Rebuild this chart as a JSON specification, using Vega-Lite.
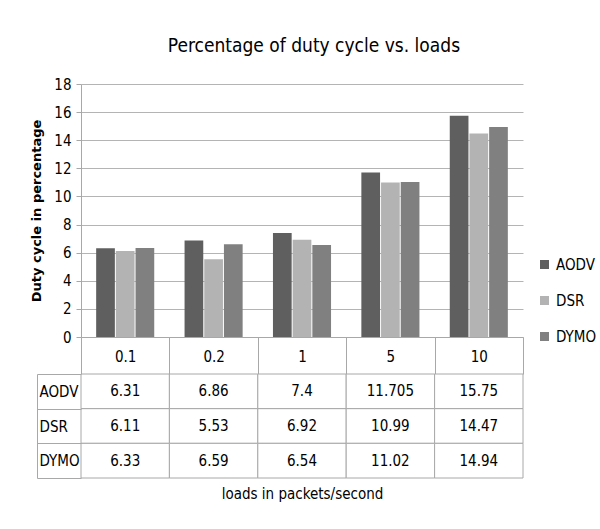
{
  "$schema": "https://vega.github.io/schema/vega-lite/v6.json",
  "background": "white",
  "padding": {"left": 30, "top": 37, "right": 5, "bottom": 5},
  "title": {
    "text": "Percentage of duty cycle  vs.  loads",
    "font": "DejaVu Sans Condensed, Roboto, sans-serif",
    "fontSize": 19,
    "fontWeight": "normal",
    "color": "black",
    "anchor": "middle",
    "offset": 21
  },
  "data": {
    "values": [
      {"load": "0.1", "protocol": "AODV", "value": 6.31},
      {"load": "0.1", "protocol": "DSR", "value": 6.11},
      {"load": "0.1", "protocol": "DYMO", "value": 6.33},
      {"load": "0.2", "protocol": "AODV", "value": 6.86},
      {"load": "0.2", "protocol": "DSR", "value": 5.53},
      {"load": "0.2", "protocol": "DYMO", "value": 6.59},
      {"load": "1", "protocol": "AODV", "value": 7.4},
      {"load": "1", "protocol": "DSR", "value": 6.92},
      {"load": "1", "protocol": "DYMO", "value": 6.54},
      {"load": "5", "protocol": "AODV", "value": 11.705},
      {"load": "5", "protocol": "DSR", "value": 10.99},
      {"load": "5", "protocol": "DYMO", "value": 11.02},
      {"load": "10", "protocol": "AODV", "value": 15.75},
      {"load": "10", "protocol": "DSR", "value": 14.47},
      {"load": "10", "protocol": "DYMO", "value": 14.94}
    ]
  },
  "bounds": "flush",
  "spacing": 37,
  "vconcat": [
    {
      "width": 442,
      "height": 253,
      "mark": {"type": "bar"},
      "encoding": {
        "x": {
          "field": "load",
          "type": "nominal",
          "sort": ["0.1", "0.2", "1", "5", "10"],
          "scale": {"paddingInner": 0, "paddingOuter": 0},
          "axis": {
            "title": null,
            "labelAngle": 0,
            "domainColor": "#a8a8a8",
            "tickColor": "#a8a8a8",
            "tickBand": "extent",
            "tickSize": 37,
            "labelPadding": -18,
            "labelBaseline": "middle",
            "labelFont": "DejaVu Sans Condensed, Roboto, sans-serif",
            "labelFontSize": 15,
            "labelColor": "black"
          }
        },
        "xOffset": {
          "field": "protocol",
          "type": "nominal",
          "sort": ["AODV", "DSR", "DYMO"],
          "scale": {"paddingInner": 0.05, "paddingOuter": 0.77}
        },
        "y": {
          "field": "value",
          "type": "quantitative",
          "scale": {"domain": [0, 18], "nice": false},
          "axis": {
            "values": [0, 2, 4, 6, 8, 10, 12, 14, 16, 18],
            "title": "Duty cycle in percentage",
            "titleFont": "DejaVu Sans",
            "titleFontSize": 13,
            "titleFontWeight": "bold",
            "titleColor": "black",
            "titlePadding": 10,
            "labelFont": "DejaVu Sans Condensed, Roboto, sans-serif",
            "labelFontSize": 15,
            "labelColor": "black",
            "labelPadding": 5,
            "tickSize": 5,
            "tickColor": "#a8a8a8",
            "domainColor": "#a8a8a8",
            "gridColor": "#b4b4b4",
            "grid": true
          }
        },
        "color": {
          "field": "protocol",
          "type": "nominal",
          "sort": ["AODV", "DSR", "DYMO"],
          "scale": {"domain": ["AODV", "DSR", "DYMO"], "range": ["#5f5f5f", "#b3b3b3", "#808080"]},
          "legend": {
            "title": null,
            "orient": "none",
            "legendX": 456,
            "legendY": 173,
            "symbolType": "square",
            "symbolSize": 81,
            "symbolStrokeWidth": 0,
            "labelFont": "DejaVu Sans Condensed, Roboto, sans-serif",
            "labelFontSize": 15,
            "labelColor": "black",
            "labelOffset": 4,
            "rowPadding": 20
          }
        }
      }
    },
    {
      "width": 442,
      "height": 104,
      "encoding": {
        "x": {
          "field": "load",
          "type": "nominal",
          "sort": ["0.1", "0.2", "1", "5", "10"],
          "scale": {"paddingInner": 0, "paddingOuter": 0},
          "axis": {
            "title": "loads in  packets/second",
            "titleFont": "DejaVu Sans Condensed, Roboto, sans-serif",
            "titleFontSize": 15,
            "titleFontWeight": "normal",
            "titleColor": "black",
            "titlePadding": 8,
            "labels": false,
            "ticks": false,
            "domain": false
          }
        },
        "y": {
          "field": "protocol",
          "type": "nominal",
          "sort": ["AODV", "DSR", "DYMO"],
          "scale": {"paddingInner": 0, "paddingOuter": 0},
          "axis": {
            "title": null,
            "offset": 44,
            "domainColor": "#a8a8a8",
            "tickColor": "#a8a8a8",
            "tickBand": "extent",
            "tickSize": -44,
            "labelAlign": "left",
            "labelBaseline": "middle",
            "labelPadding": 42,
            "labelFont": "DejaVu Sans Condensed, Roboto, sans-serif",
            "labelFontSize": 15,
            "labelColor": "black"
          }
        }
      },
      "layer": [
        {"mark": {"type": "rect", "fill": "white", "stroke": "#a8a8a8", "strokeWidth": 1}},
        {
          "mark": {"type": "text", "font": "DejaVu Sans Condensed, Roboto, sans-serif", "fontSize": 15, "color": "black"},
          "encoding": {"text": {"field": "value", "type": "nominal"}}
        }
      ]
    }
  ],
  "config": {"view": {"stroke": null}}
}
